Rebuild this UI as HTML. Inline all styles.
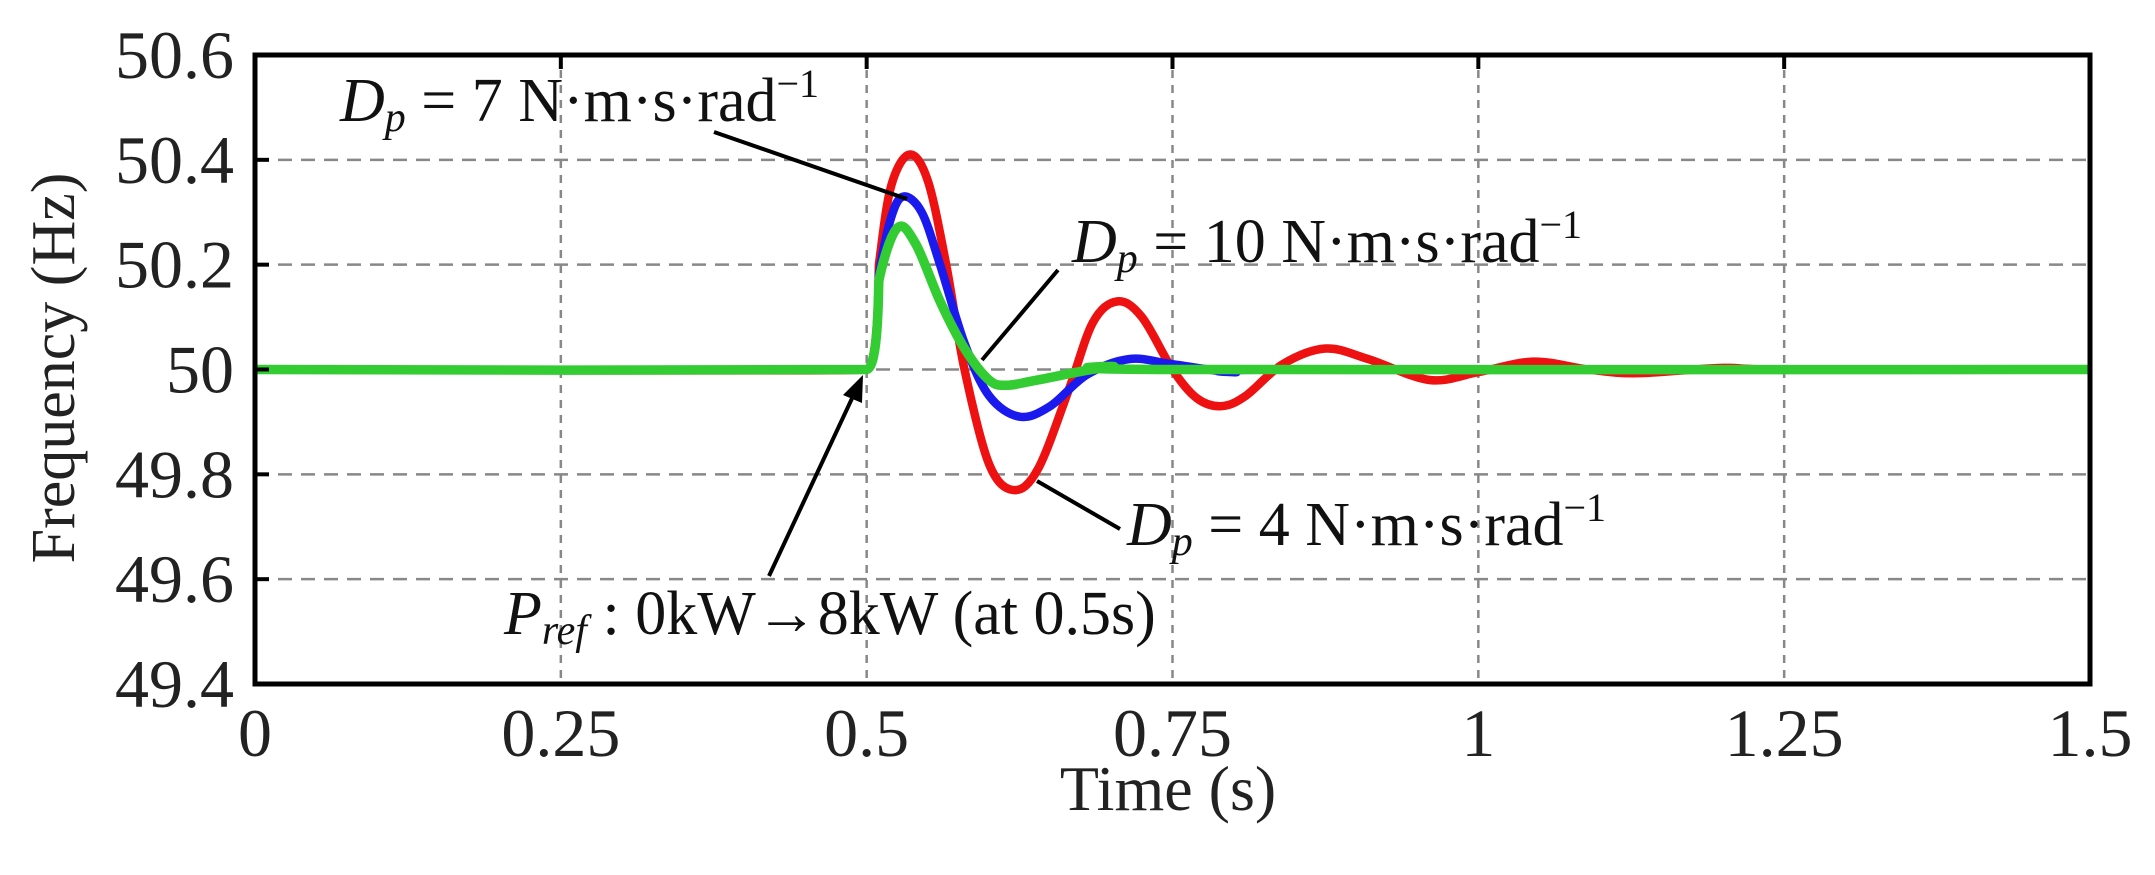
<!DOCTYPE html>
<html><head><meta charset="utf-8"><style>
html,body{margin:0;padding:0;background:#fff;}
svg{display:block;font-family:"Liberation Serif",serif;}
</style></head><body>
<svg id="chart" width="2155" height="875" viewBox="0 0 2155 875" xmlns="http://www.w3.org/2000/svg">
<g id="grid"></g>
<g id="series"></g>
<rect x="255" y="55" width="1835" height="629" fill="none" stroke="#000" stroke-width="5"/>
<g id="ticks"></g>
<text x="60" y="368" font-size="62" fill="#222" text-anchor="middle" transform="rotate(-90 60 368)" dominant-baseline="middle">Frequency (Hz)</text>
<text x="1168" y="810" font-size="64" fill="#222" text-anchor="middle">Time (s)</text>
<g font-size="62" fill="#111">
<text x="340" y="121"><tspan font-style="italic">D</tspan><tspan font-style="italic" font-size="42" dy="10">p</tspan><tspan dy="-10"> = 7 N·m·s·rad</tspan><tspan font-size="40" dy="-24">−1</tspan></text>
<line x1="714" y1="132" x2="907" y2="199" stroke="#000" stroke-width="4"/>
<text x="1072" y="262"><tspan font-style="italic">D</tspan><tspan font-style="italic" font-size="42" dy="10">p</tspan><tspan dy="-10"> = 10 N·m·s·rad</tspan><tspan font-size="40" dy="-24">−1</tspan></text>
<line x1="1058" y1="270" x2="982" y2="360" stroke="#000" stroke-width="4"/>
<text x="1127" y="545"><tspan font-style="italic">D</tspan><tspan font-style="italic" font-size="42" dy="10">p</tspan><tspan dy="-10"> = 4 N·m·s·rad</tspan><tspan font-size="40" dy="-24">−1</tspan></text>
<line x1="1037" y1="481" x2="1120" y2="529" stroke="#000" stroke-width="4"/>
<text x="504" y="634"><tspan font-style="italic">P</tspan><tspan font-style="italic" font-size="42" dy="10">ref</tspan><tspan dy="-10"> : 0kW→8kW (at 0.5s)</tspan></text>
<line x1="769" y1="576" x2="855" y2="392" stroke="#000" stroke-width="4"/>
<polygon points="863,375 843,395 862,403" fill="#000"/>
</g>
</svg>
<script>
const xTicks = [0, 0.25, 0.5, 0.75, 1, 1.25, 1.5];
const xTickLabels = ["0", "0.25", "0.5", "0.75", "1", "1.25", "1.5"];
const yTicks = [49.4, 49.6, 49.8, 50, 50.2, 50.4, 50.6];
const yTickLabels = ["49.4", "49.6", "49.8", "50", "50.2", "50.4", "50.6"];
const redT = [0,0.5,0.51,0.52,0.535,0.55,0.565,0.58,0.6,0.62,0.64,0.665,0.685,0.705,0.725,0.75,0.77,0.79,0.81,0.84,0.875,0.91,0.96,1.0,1.045,1.09,1.13,1.2,1.25,1.5];
const redF = [50,50,50.2,50.35,50.41,50.36,50.2,50.0,49.82,49.77,49.81,49.96,50.09,50.13,50.1,50.0,49.945,49.93,49.95,50.01,50.04,50.02,49.98,49.995,50.015,50.0,49.993,50.003,50.0,50];
const blueT = [0,0.5,0.51,0.52,0.53,0.545,0.56,0.58,0.6,0.625,0.65,0.68,0.715,0.75,0.8,0.85,1.5];
const blueF = [50,50,50.18,50.29,50.33,50.3,50.2,50.05,49.95,49.91,49.93,49.99,50.02,50.01,49.995,50.0,50];
const greenT = [0,0.5,0.51,0.525,0.54,0.56,0.58,0.6,0.615,0.64,0.7,0.75,1.5];
const greenF = [50,50,50.17,50.27,50.24,50.13,50.04,49.98,49.97,49.98,50.005,50.0,50];

const L=255,R=2090,T=55,B=684;
function xs(t){return L+(t-0)/(1.5-0)*(R-L);}
function ys(f){return B-(f-49.4)/(50.6-49.4)*(B-T);}
const NS="http://www.w3.org/2000/svg";
const grid=document.getElementById('grid'), ticks=document.getElementById('ticks'), ser=document.getElementById('series');
function mk(tag,attrs,parent){const e=document.createElementNS(NS,tag);for(const k in attrs)e.setAttribute(k,attrs[k]);parent.appendChild(e);return e;}
xTicks.forEach((t,i)=>{
  const x=xs(t);
  if(i>0&&i<xTicks.length-1){
    const g=mk('line',{x1:x,y1:T,x2:x,y2:B,stroke:'#888','stroke-width':2.5,'stroke-dasharray':'8 7'},grid);
    
    
    const tk=mk('line',{x1:x,y1:T,x2:x,y2:T+14,stroke:'#000','stroke-width':4},ticks);
    
    
  }
  const lb=mk('text',{x:x,y:756,'font-size':68,fill:'#222','text-anchor':'middle'},ticks);
  lb.textContent=xTickLabels[i];
  
  
});
yTicks.forEach((f,i)=>{
  const y=ys(f);
  if(i>0&&i<yTicks.length-1){
    const g=mk('line',{x1:L,y1:y,x2:R,y2:y,stroke:'#888','stroke-width':2.5,'stroke-dasharray':'14 9'},grid);
    
    
    const tk=mk('line',{x1:L,y1:y,x2:L+14,y2:y,stroke:'#000','stroke-width':4},ticks);
    
    
  }
  const lb=mk('text',{x:234,y:y+23,'font-size':68,fill:'#222','text-anchor':'end'},ticks);
  lb.textContent=yTickLabels[i];
  
  
});
function pathFrom(T_,F_){
  const p=T_.map((t,i)=>[xs(t),ys(F_[i])]);
  let d='M'+p[0][0]+','+p[0][1];
  for(let i=0;i<p.length-1;i++){
    const p0=p[Math.max(0,i-1)],p1=p[i],p2=p[i+1],p3=p[Math.min(p.length-1,i+2)];
    let k=1/6;
    if(i===0||i===1)k=0.02;
    const c1=[p1[0]+(p2[0]-p0[0])*k,p1[1]+(p2[1]-p0[1])*k];
    const c2=[p2[0]-(p3[0]-p1[0])*k,p2[1]-(p3[1]-p1[1])*k];
    d+=' C'+c1[0]+','+c1[1]+' '+c2[0]+','+c2[1]+' '+p2[0]+','+p2[1];
  }
  return d;
}
const red=mk('path',{d:pathFrom(redT,redF),fill:'none',stroke:'#ee1111','stroke-width':8.5,'stroke-linejoin':'round'},ser);


const blue=mk('path',{d:pathFrom(blueT,blueF),fill:'none',stroke:'#1a1aee','stroke-width':8.5,'stroke-linejoin':'round'},ser);


const green=mk('path',{d:pathFrom(greenT,greenF),fill:'none',stroke:'#33cc33','stroke-width':9.5,'stroke-linejoin':'round'},ser);


</script>
</body></html>
